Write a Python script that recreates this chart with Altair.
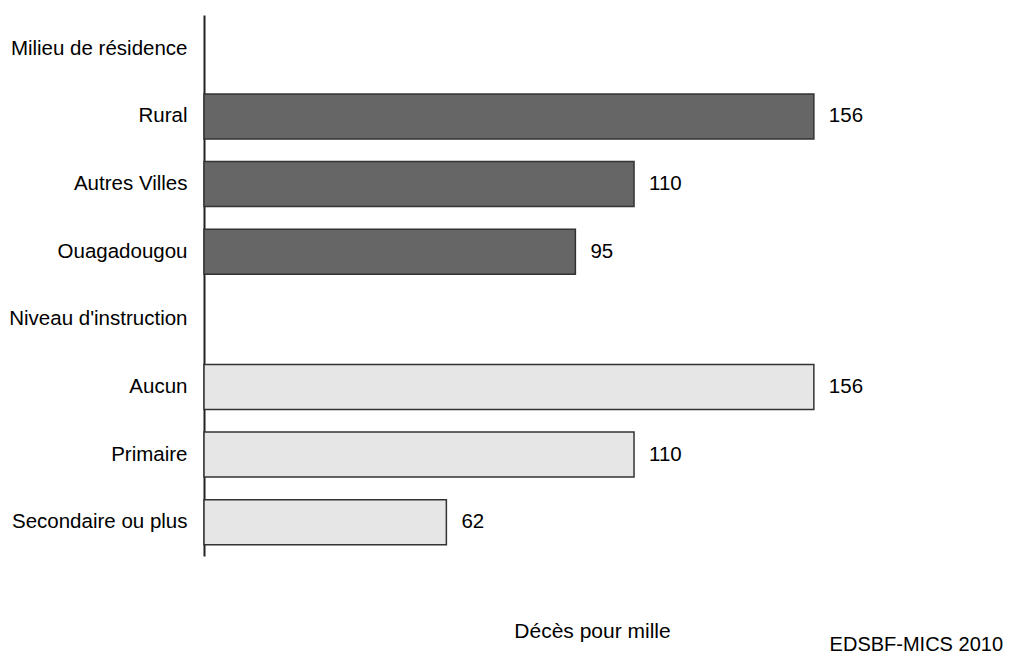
import altair as alt
import pandas as pd

categories = ["Milieu de résidence", "Rural", "Autres Villes", "Ouagadougou",
              "Niveau d'instruction", "Aucun", "Primaire", "Secondaire ou plus"]
values = [None, 156, 110, 95, None, 156, 110, 62]
groups = ["Milieu", "Milieu", "Milieu", "Milieu",
          "Instruction", "Instruction", "Instruction", "Instruction"]

df = pd.DataFrame({"cat": categories, "val": values, "grp": groups})

FONT = "Liberation Sans"

y_enc = alt.Y("cat:N", sort=categories,
              scale=alt.Scale(domain=categories, paddingInner=0.335, paddingOuter=0.1675),
              axis=alt.Axis(title=None, ticks=False, labelPadding=17, labelFont=FONT,
                            labelFontSize=20.5, labelColor="#000", labelLimit=400,
                            domainColor="#222", domainWidth=2, grid=False))

x_enc = alt.X("val:Q", scale=alt.Scale(domain=[0, 198.5], nice=False, zero=True),
              axis=alt.Axis(title="Décès pour mille", labels=False, ticks=False, domain=False,
                            grid=False, titleFont=FONT, titleFontSize=21, titleFontWeight="normal",
                            titleColor="#000", titlePadding=64))

base = alt.Chart(df).transform_filter("datum.val != null")

bars = base.mark_bar(stroke="#333", strokeWidth=1.5).encode(
    y=y_enc,
    x=x_enc,
    color=alt.Color("grp:N", scale=alt.Scale(domain=["Milieu", "Instruction"],
                                             range=["#666666", "#e6e6e6"]), legend=None),
)

labels = base.mark_text(align="left", baseline="middle", dx=15, font=FONT,
                        fontSize=20.5, color="#000").encode(
    y=alt.Y("cat:N", sort=categories),
    x=alt.X("val:Q"),
    text=alt.Text("val:Q", format="d"),
)

chart = (bars + labels).properties(
    width=776,
    height=541,
    padding={"left": 0, "top": 7, "right": 0, "bottom": 0},
    title=alt.TitleParams(text="EDSBF-MICS 2010", orient="bottom", anchor="end",
                          font=FONT, fontSize=20, fontWeight="normal", color="#000",
                          dx=23, offset=-6),
).configure_view(stroke=None)

chart.save("out.html", embed_options={"renderer": "svg", "actions": False})
